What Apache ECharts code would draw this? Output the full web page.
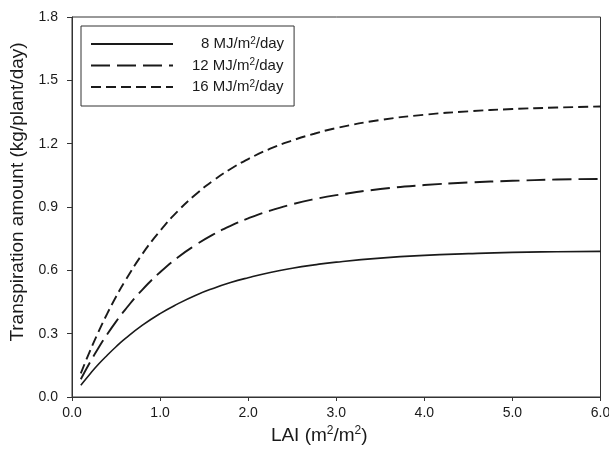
<!DOCTYPE html>
<html>
<head>
<meta charset="utf-8">
<style>
  html, body { margin: 0; padding: 0; background: #fff; }
  #chart { width: 609px; height: 463px; }
</style>
<script src="https://cdn.jsdelivr.net/npm/echarts@6/dist/echarts.min.js"></script>
</head>
<body>
<div id="chart"></div>
<script>
// Leaf area index sample points (m2/m2)
const lai = [0.1, 0.2, 0.3, 0.4, 0.5, 0.6, 0.8, 1.0, 1.2, 1.4, 1.6, 1.8, 2.0,
             2.25, 2.5, 2.75, 3.0, 3.5, 4.0, 4.5, 5.0, 5.5, 6.0];

// Transpiration amount (kg/plant/day) for each radiation level
const rad8  = [0.056, 0.107, 0.155, 0.198, 0.238, 0.275, 0.340, 0.395, 0.441, 0.481, 0.514, 0.542, 0.565,
               0.590, 0.610, 0.626, 0.639, 0.658, 0.671, 0.679, 0.685, 0.688, 0.690];
const rad12 = [0.084, 0.161, 0.232, 0.297, 0.357, 0.412, 0.509, 0.591, 0.661, 0.719, 0.769, 0.811, 0.846,
               0.883, 0.913, 0.937, 0.956, 0.985, 1.004, 1.016, 1.024, 1.030, 1.033];
const rad16 = [0.112, 0.214, 0.308, 0.395, 0.475, 0.548, 0.678, 0.787, 0.880, 0.958, 1.024, 1.080, 1.127,
               1.176, 1.215, 1.247, 1.274, 1.312, 1.337, 1.353, 1.364, 1.371, 1.376];

const seriesNames = ['8 MJ/m2/day', '12 MJ/m2/day', '16 MJ/m2/day'];
const xTicks = [0, 1, 2, 3, 4, 5, 6];
const yTicks = [0, 0.3, 0.6, 0.9, 1.2, 1.5, 1.8];

const FONT = 'Liberation Sans, Arial, sans-serif';
const INK = '#1a1a1a';

function pairs(ys) { return lai.map((x, i) => [x, ys[i]]); }

function mkSeries(name, ys, dash, width) {
  return {
    name: name,
    type: 'line',
    data: pairs(ys),
    smooth: true,
    symbol: 'none',
    silent: true,
    lineStyle: { color: INK, width: width, type: dash }
  };
}

const chart = echarts.init(document.getElementById('chart'), null, { renderer: 'canvas' });

chart.setOption({
  animation: false,
  backgroundColor: '#fff',
  textStyle: { fontFamily: FONT, color: INK },
  grid: {
    left: 72, right: 8.5, top: 17, bottom: 66,
    show: true, borderColor: '#333', borderWidth: 1,
    outerBoundsMode: 'none'
  },
  legend: {
    data: seriesNames,
    orient: 'vertical',
    left: 81, top: 26,
    padding: [10, 10, 11, 9],
    itemWidth: 82, itemHeight: 16, itemGap: 5.5,
    borderColor: '#333', borderWidth: 1,
    backgroundColor: '#fff',
    selectedMode: false,
    itemStyle: { opacity: 0, borderWidth: 0 },
    formatter: function (name) {
      const num = name.split(' ')[0];
      const pad = num.length === 1 ? '{p1|}' : '{p2|}';
      return pad + '{a|' + num + ' MJ/m}{s|2}{a|/day}';
    },
    textStyle: {
      fontFamily: FONT, color: INK, fontSize: 15,
      rich: {
        p1: { width: 23 },
        p2: { width: 14 },
        a: { fontFamily: FONT, fontSize: 15, color: INK, lineHeight: 16 },
        s: { fontFamily: FONT, fontSize: 10, color: INK, lineHeight: 16, verticalAlign: 'top', padding: [0, 0, 6, 0] }
      }
    }
  },
  xAxis: {
    type: 'value',
    min: xTicks[0], max: xTicks[xTicks.length - 1], interval: 1,
    name: '{a|LAI (m}{s|2}{a|/m}{s|2}{a|)}',
    nameLocation: 'middle',
    nameGap: 27,
    nameTextStyle: {
      padding: [0, 34, 0, 0],
      rich: {
        a: { fontFamily: FONT, fontSize: 19, color: INK, lineHeight: 22 },
        s: { fontFamily: FONT, fontSize: 12, color: INK, lineHeight: 22, verticalAlign: 'top', padding: [0, 0, 9, 0] }
      }
    },
    axisLine: { show: true, lineStyle: { color: '#333', width: 1 } },
    axisTick: { show: true, inside: false, length: 4, lineStyle: { color: '#333' } },
    axisLabel: {
      margin: 9, fontSize: 14, color: INK, fontFamily: FONT,
      formatter: v => v.toFixed(1)
    },
    splitLine: { show: false }
  },
  yAxis: {
    type: 'value',
    min: yTicks[0], max: yTicks[yTicks.length - 1], interval: 0.3,
    name: 'Transpiration amount (kg/plant/day)',
    nameLocation: 'middle',
    nameGap: 45,
    nameTextStyle: { fontFamily: FONT, fontSize: 19, color: INK, padding: [0, 0, 0, 30] },
    axisLine: { show: true, lineStyle: { color: '#333', width: 1 } },
    axisTick: { show: true, inside: false, length: 5, lineStyle: { color: '#333' } },
    axisLabel: {
      margin: 14, fontSize: 14, color: INK, fontFamily: FONT,
      formatter: v => v.toFixed(1)
    },
    splitLine: { show: false }
  },
  series: [
    mkSeries(seriesNames[0], rad8, 'solid', 1.6),
    mkSeries(seriesNames[1], rad12, [19, 7], 1.9),
    mkSeries(seriesNames[2], rad16, [10, 5], 1.9)
  ]
});
</script>
</body>
</html>
